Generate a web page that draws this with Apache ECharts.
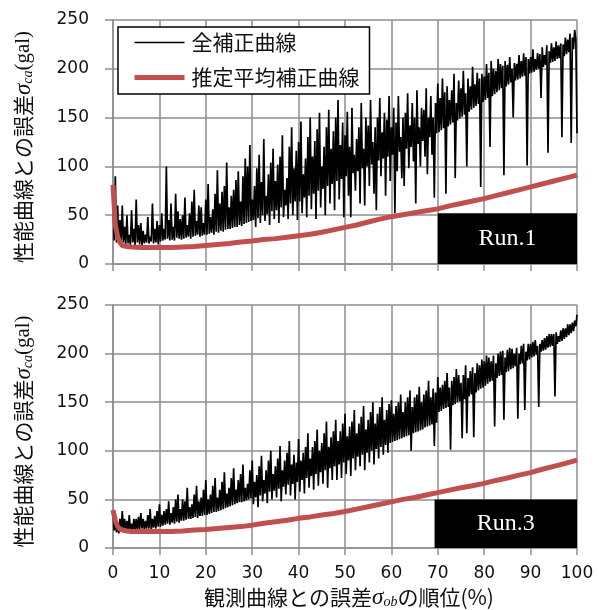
<!DOCTYPE html>
<html><head><meta charset="utf-8">
<script src="https://cdn.jsdelivr.net/npm/echarts@6/dist/echarts.min.js"></script>
<style>html,body{margin:0;padding:0;background:#fff}#c{width:599px;height:610px}</style>
</head><body><div id="c"></div>
<script>
// Rank (%) of error vs observed curve: black series sampled every 0.25 %
const seriesNames = ['全補正曲線', '推定平均補正曲線'];
const panelLabels = ['Run.1', 'Run.3'];

const allCorrRun1 = [
72, 24, 90, 22, 60, 21, 45, 20, 60, 22,
38, 20, 50, 21, 30, 19, 55, 22, 36, 19,
66, 22, 40, 20, 42, 19, 34, 21, 30, 22,
48, 21, 28, 23, 62, 21, 36, 22, 44, 20,
40, 23, 52, 24, 36, 25, 100, 26, 45, 24,
62, 25, 38, 24, 72, 27, 54, 26, 46, 25,
50, 26, 68, 27, 40, 28, 52, 26, 64, 28,
76, 29, 44, 30, 60, 28, 58, 29, 42, 30,
66, 30, 82, 31, 48, 32, 56, 30, 72, 33,
96, 32, 62, 34, 74, 33, 80, 35, 104, 36,
58, 36, 70, 37, 76, 38, 86, 38, 95, 40,
64, 39, 90, 41, 108, 42, 100, 43, 122, 44,
66, 45, 80, 38, 98, 47, 112, 42, 84, 50,
128, 44, 70, 51, 92, 40, 104, 54, 118, 46,
85, 55, 102, 42, 110, 58, 132, 48, 76, 60,
88, 46, 120, 62, 140, 50, 98, 64, 116, 45,
125, 64, 146, 52, 92, 68, 108, 48, 130, 70,
150, 56, 110, 72, 126, 46, 138, 75, 155, 58,
100, 77, 120, 50, 140, 80, 158, 62, 118, 82,
136, 55, 150, 85, 168, 66, 122, 87, 145, 48,
132, 90, 156, 70, 120, 48, 160, 93, 112, 75,
128, 95, 140, 62, 165, 98, 118, 60, 150, 100,
142, 80, 168, 102, 125, 72, 140, 55, 150, 106,
170, 90, 135, 108, 155, 70, 148, 110, 172, 85,
140, 112, 160, 52, 145, 95, 172, 115, 130, 88,
150, 80, 155, 118, 175, 98, 142, 120, 165, 105,
150, 62, 178, 123, 140, 100, 160, 126, 158, 110,
180, 92, 150, 130, 172, 112, 150, 68, 165, 134,
185, 135, 170, 137, 190, 139, 176, 72, 182, 141,
168, 143, 178, 145, 195, 88, 165, 147, 188, 149,
180, 151, 198, 153, 175, 100, 190, 156, 182, 158,
202, 160, 184, 162, 196, 164, 190, 79, 195, 166,
192, 168, 205, 170, 196, 120, 208, 172, 200, 174,
198, 176, 210, 178, 205, 180, 203, 91, 208, 182,
204, 184, 212, 186, 200, 150, 206, 188, 205, 189,
214, 190, 208, 192, 216, 193, 212, 101, 210, 195,
212, 196, 220, 197, 210, 199, 216, 200, 215, 170,
222, 202, 214, 204, 224, 114, 218, 206, 226, 207,
222, 208, 228, 210, 224, 211, 226, 130, 225, 213,
232, 215, 230, 217, 236, 124, 232, 220, 240, 230,
134
];

const allCorrRun3 = [
36, 18, 28, 16, 26, 15, 30, 17, 38, 18,
30, 17, 28, 16, 34, 18, 25, 17, 30, 18,
30, 18, 32, 19, 36, 20, 30, 19, 28, 20,
34, 20, 40, 19, 30, 21, 33, 20, 38, 22,
45, 22, 34, 23, 38, 24, 40, 25, 48, 24,
36, 26, 42, 25, 50, 27, 55, 26, 40, 28,
50, 28, 48, 29, 62, 30, 42, 30, 45, 31,
55, 32, 64, 31, 48, 33, 52, 33, 60, 34,
70, 34, 50, 35, 55, 36, 64, 37, 72, 37,
52, 38, 60, 39, 68, 40, 78, 41, 56, 42,
62, 43, 72, 44, 82, 45, 60, 46, 70, 47,
76, 47, 86, 48, 62, 49, 66, 50, 80, 51,
90, 45, 68, 52, 75, 42, 84, 54, 95, 48,
70, 56, 80, 46, 90, 58, 100, 50, 76, 59,
84, 52, 92, 61, 105, 48, 80, 63, 90, 55,
98, 65, 110, 54, 86, 66, 96, 50, 88, 68,
112, 58, 90, 70, 98, 56, 104, 72, 118, 62,
92, 74, 104, 60, 110, 76, 122, 64, 100, 78,
108, 66, 118, 80, 130, 62, 104, 82, 114, 70,
120, 84, 132, 70, 110, 86, 120, 72, 128, 88,
138, 76, 115, 90, 125, 74, 130, 92, 142, 80,
118, 94, 128, 84, 135, 96, 146, 80, 122, 98,
132, 88, 140, 100, 150, 86, 128, 102, 138, 92,
145, 104, 155, 96, 132, 106, 142, 98, 148, 108,
152, 109, 138, 110, 146, 111, 150, 112, 158, 113,
140, 114, 150, 115, 155, 116, 162, 100, 145, 118,
155, 119, 158, 120, 166, 121, 150, 122, 158, 124,
162, 125, 172, 126, 155, 127, 164, 105, 160, 129,
176, 140, 165, 141, 168, 143, 172, 144, 180, 145,
165, 101, 172, 147, 176, 148, 184, 150, 178, 151,
170, 113, 178, 153, 188, 118, 175, 156, 182, 158,
186, 114, 180, 160, 190, 162, 188, 164, 194, 165,
192, 167, 198, 169, 196, 171, 192, 172, 198, 125,
190, 175, 200, 177, 202, 178, 203, 132, 196, 181,
204, 182, 206, 184, 205, 185, 200, 187, 206, 133,
200, 189, 208, 190, 210, 142, 202, 193, 210, 194,
210, 196, 212, 197, 214, 199, 208, 145, 210, 202,
214, 203, 216, 204, 218, 206, 220, 207, 220, 208,
220, 156, 222, 210, 218, 212, 224, 213, 226, 215,
226, 217, 230, 219, 230, 221, 232, 223, 234, 228,
240
];

const meanX = [0, 0.5, 1, 1.5, 2, 3, 4, 6, 8, 10, 12.5, 15, 17.5, 20, 22.5, 25, 27.5, 30, 32.5, 35, 37.5, 40, 42.5, 45, 47.5, 50, 52.5, 55, 57.5, 60, 62.5, 65, 67.5, 70, 72.5, 75, 77.5, 80, 82.5, 85, 87.5, 90, 92.5, 95, 97.5, 100];
const meanRun1 = [81, 40, 28, 22, 19, 18, 17.5, 17, 17, 17, 17, 17.5, 18, 19, 20, 21, 22.5, 23.5, 25, 26, 27.5, 29, 30.5, 32.5, 35, 37.5, 40, 43, 46, 48.5, 50.5, 52.5, 54.5, 56.5, 59.5, 62, 64.5, 67, 70, 73, 76, 79, 82, 85, 88, 91];
const meanRun3 = [39, 28, 22, 19.5, 18.5, 17.5, 17, 17, 17, 17, 17, 17.5, 18.5, 19, 20, 21, 22, 23.5, 25.5, 27, 28.5, 30.5, 32, 34, 35.5, 37.5, 40, 42.5, 45, 47.5, 50, 52, 54.5, 57, 59.5, 62, 64, 66.5, 69.5, 72, 75, 77.5, 81, 84, 87, 90.5];

const xTickValues = [0, 10, 20, 30, 40, 50, 60, 70, 80, 90, 100];
const yTickValues = [0, 50, 100, 150, 200, 250];
// label boxes [x0, y0, x1, y1] in data units
const boxRun1 = [70, 0, 100, 52];
const boxRun3 = [69.3, 0, 100, 50];

function rankPairs(vals) {
  const n = vals.length;
  return vals.map((v, i) => [i * 100 / (n - 1), v]);
}
function zipPairs(xs, ys) { return xs.map((x, i) => [x, ys[i]]); }

const GRAY = '#8e8e8e';
const numFont = { fontFamily: 'DejaVu Sans', fontSize: 17, color: '#111' };
const nameRich = {
  j: { fontFamily: 'Noto Sans CJK JP', fontSize: 21, color: '#111' },
  s: { fontFamily: 'Liberation Serif', fontStyle: 'italic', fontSize: 23, color: '#111' },
  sub: { fontFamily: 'Liberation Serif', fontStyle: 'italic', fontSize: 14, color: '#111', verticalAlign: 'bottom', padding: [8, 0, 0, 0] },
  g: { fontFamily: 'Liberation Serif', fontSize: 21, color: '#111' }
};

function xAxisCfg(gi, showLabel) {
  return {
    gridIndex: gi, type: 'value', min: 0, max: 100, interval: 10,
    axisLine: { show: true, onZero: false, lineStyle: { color: GRAY, width: 1.5 } },
    axisTick: { show: true, length: 7, lineStyle: { color: GRAY, width: 1.5 } },
    axisLabel: Object.assign({ show: showLabel, margin: 17 }, numFont),
    splitLine: { show: true, lineStyle: { color: GRAY, width: 1.5 } },
    name: showLabel ? '{j|観測曲線との誤差}{s|σ}{sub|ob}{j|の順位(%)}' : '',
    nameLocation: 'middle', nameGap: 38,
    nameTextStyle: { rich: nameRich, padding: [0, 0, 0, 8] }
  };
}
function yAxisCfg(gi) {
  return {
    gridIndex: gi, type: 'value', min: 0, max: 250, interval: 50,
    axisLine: { show: true, lineStyle: { color: GRAY, width: 1.5 } },
    axisTick: { show: true, length: 8, lineStyle: { color: GRAY, width: 1.5 } },
    axisLabel: Object.assign({ margin: 24 }, numFont),
    splitLine: { show: true, lineStyle: { color: GRAY, width: 1.5 } },
    name: '{j|性能曲線との誤差}{s|σ}{sub|ca}{g|(gal)}',
    nameLocation: 'middle', nameGap: 78, nameRotate: 90,
    nameTextStyle: { rich: nameRich, padding: [0, 10, 0, 0] }
  };
}
function boxArea(b, label) {
  return {
    silent: true,
    itemStyle: { color: '#000', opacity: 1 },
    label: { show: true, position: 'inside', color: '#fff', fontFamily: 'Liberation Serif', fontSize: 24 },
    data: [[{ name: label, coord: [b[0], b[1]] }, { coord: [b[2], b[3]] }]]
  };
}

const chart = echarts.init(document.getElementById('c'), null, { renderer: 'canvas' });
chart.setOption({
  animation: false,
  backgroundColor: '#fff',
  grid: [
    { left: 113, right: 22, top: 20, height: 244 },
    { left: 113, right: 22, top: 305, height: 243 }
  ],
  xAxis: [xAxisCfg(0, false), xAxisCfg(1, true)],
  yAxis: [yAxisCfg(0), yAxisCfg(1)],
  legend: {
    left: 118, top: 27, orient: 'vertical',
    data: [
      { name: seriesNames[0], lineStyle: { width: 1.5, color: '#000' } },
      { name: seriesNames[1], lineStyle: { width: 5, color: '#c0504d' } }
    ],
    itemWidth: 50, itemHeight: 20, itemGap: 14,
    padding: [5, 10, 6, 14],
    borderColor: '#000', borderWidth: 1.5, backgroundColor: '#fff',
    itemStyle: { opacity: 0 },
    textStyle: { fontFamily: 'Noto Sans CJK JP', fontSize: 21, color: '#111', padding: [0, 0, 0, 2] },
    selectedMode: false
  },
  series: [
    { name: seriesNames[0], type: 'line', xAxisIndex: 0, yAxisIndex: 0, symbol: 'none',
      lineStyle: { color: '#000', width: 1.7 }, itemStyle: { color: '#000' },
      data: rankPairs(allCorrRun1), z: 2 },
    { name: seriesNames[1], type: 'line', xAxisIndex: 0, yAxisIndex: 0, symbol: 'none',
      lineStyle: { color: '#c0504d', width: 5 }, itemStyle: { color: '#c0504d' },
      data: zipPairs(meanX, meanRun1), z: 3, markArea: boxArea(boxRun1, panelLabels[0]) },
    { name: seriesNames[0], type: 'line', xAxisIndex: 1, yAxisIndex: 1, symbol: 'none',
      lineStyle: { color: '#000', width: 1.7 }, itemStyle: { color: '#000' },
      data: rankPairs(allCorrRun3), z: 2 },
    { name: seriesNames[1], type: 'line', xAxisIndex: 1, yAxisIndex: 1, symbol: 'none',
      lineStyle: { color: '#c0504d', width: 5 }, itemStyle: { color: '#c0504d' },
      data: zipPairs(meanX, meanRun3), z: 3, markArea: boxArea(boxRun3, panelLabels[1]) }
  ]
});
</script></body></html>
